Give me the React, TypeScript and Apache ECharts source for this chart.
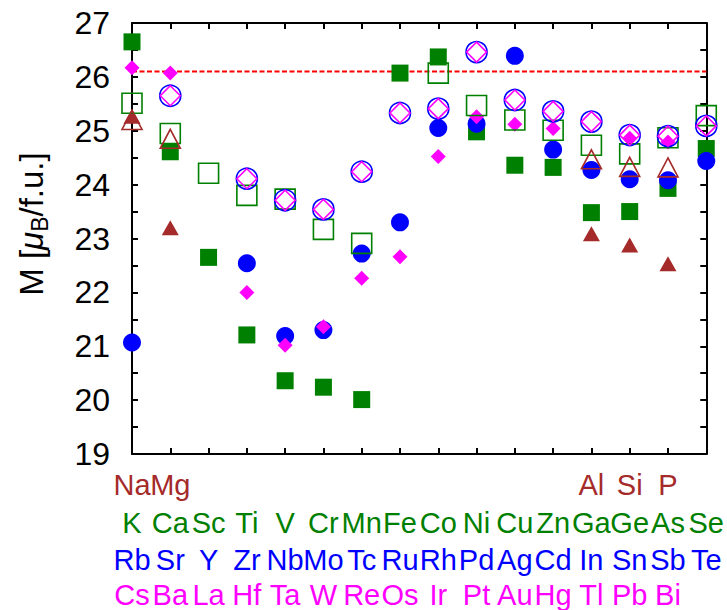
import React, { useEffect, useRef } from "react";
import * as echarts from "echarts";

// Column labels (one per tick, rows from top to bottom)
const rowNa = ["Na", "Mg", "", "", "", "", "", "", "", "", "", "", "Al", "Si", "P", ""];
const rowK = ["K", "Ca", "Sc", "Ti", "V", "Cr", "Mn", "Fe", "Co", "Ni", "Cu", "Zn", "Ga", "Ge", "As", "Se"];
const rowRb = ["Rb", "Sr", "Y", "Zr", "Nb", "Mo", "Tc", "Ru", "Rh", "Pd", "Ag", "Cd", "In", "Sn", "Sb", "Te"];
const rowCs = ["Cs", "Ba", "La", "Hf", "Ta", "W", "Re", "Os", "Ir", "Pt", "Au", "Hg", "Tl", "Pb", "Bi", ""];

const yTicks = [19, 20, 21, 22, 23, 24, 25, 26, 27];
const refLine = 26.1;

// Series values (null = no point) per column
const greenFilled = [26.65, 24.61, 22.65, 21.21, 20.36, 20.24, 20.01, 26.07, 26.37, 24.98, 24.36, 24.32, 23.48, 23.5, 23.93, 24.67];
const greenOpen = [25.51, 24.95, 24.21, 23.8, 23.73, 23.17, 22.91, null, 26.07, 25.47, 25.2, 25.01, 24.73, 24.57, 24.87, 25.28];
const blueFilled = [21.07, null, null, 22.54, 21.19, 21.3, 22.72, 23.3, 25.05, 25.13, 26.39, 24.65, 24.27, 24.1, 24.08, 24.44];
const blueOpen = [null, 25.65, null, 24.11, 23.71, 23.54, 24.24, 25.33, 25.41, 26.46, 25.57, 25.36, 25.17, 24.92, 24.9, 25.09];
const magentaFilled = [26.17, 26.07, null, 22.0, 21.02, 21.36, 22.26, 22.66, 24.52, 25.26, 25.12, 25.04, null, 24.86, 24.79, null];
const magentaOpen = [null, 25.65, null, 24.11, 23.71, 23.54, 24.24, 25.33, 25.41, 26.46, 25.57, 25.36, 25.17, 24.92, 24.9, 25.09];
const brownFilled = [25.27, 23.2, null, null, null, null, null, null, null, null, null, null, 23.09, 22.88, 22.53, null];
const brownOpen = [25.2, 24.85, null, null, null, null, null, null, null, null, null, null, 24.47, 24.33, 24.32, null];

const GREEN = "#008000";
const BLUE = "#0000ff";
const MAGENTA = "#ff00ff";
const BROWN = "#a52a2a";
const FONT = "Liberation Sans";

const toPts = (arr: (number | null)[]) =>
  arr.map((v, i) => (v === null ? null : [i, v])).filter((p) => p !== null);

export default function App() {
  const ref = useRef<HTMLDivElement>(null);
  useEffect(() => {
    if (!ref.current) return;
    const chart = echarts.init(ref.current, null, { renderer: "svg" });
    const n = rowK.length;
    // split the first row so that touching labels (Na, Mg) are not hidden
    const rowNaEven = rowNa.map((s, i) => (i % 2 === 0 ? s : ""));
    const rowNaOdd = rowNa.map((s, i) => (i % 2 === 1 ? s : ""));
    const rows = [rowNaEven, rowNaOdd, rowK, rowRb, rowCs];
    const rowColors = [BROWN, BROWN, GREEN, BLUE, MAGENTA];
    const rowOffsets = [0, 0, 38, 75, 110];
    const bottomAxes = rows.map((row, k) => ({
      type: "value",
      position: "bottom",
      offset: rowOffsets[k],
      min: 0,
      max: n - 1,
      interval: 1,
      splitLine: { show: false },
      axisLine: { show: k === 0, onZero: false, lineStyle: { color: "#000", width: 2 } },
      axisTick: { show: k === 0, inside: true, length: 6, lineStyle: { color: "#000", width: 2 } },
      axisLabel: {
        show: true,
        margin: 16,
        hideOverlap: false,
        showMinLabel: true,
        showMaxLabel: true,
        color: rowColors[k],
        fontSize: 29,
        fontFamily: FONT,
        formatter: (v: number) => row[Math.round(v)] || "",
      },
    }));
    const scatter = (
      name: string,
      data: (number | null)[],
      symbol: string,
      size: number | number[],
      color: string,
      open: boolean
    ) => ({
      name,
      type: "scatter",
      xAxisIndex: 0,
      yAxisIndex: 0,
      clip: false,
      symbol,
      symbolSize: size,
      data: toPts(data),
      itemStyle: open
        ? { color: "rgba(0,0,0,0)", borderColor: color, borderWidth: 1.6, opacity: 1 }
        : { color, borderWidth: 0, opacity: 1 },
    });
    chart.setOption({
      animation: false,
      backgroundColor: "#fff",
      grid: { left: 132, right: 20, top: 23, bottom: 156, containLabel: false },
      xAxis: [
        ...bottomAxes,
        {
          type: "value",
          position: "top",
          min: 0,
          max: n - 1,
          interval: 1,
          splitLine: { show: false },
          axisLine: { show: true, onZero: false, lineStyle: { color: "#000", width: 2 } },
          axisTick: { show: true, inside: true, length: 6, lineStyle: { color: "#000", width: 2 } },
          axisLabel: { show: false },
        },
      ],
      yAxis: [
        {
          type: "value",
          position: "left",
          min: 19,
          max: 27,
          interval: 0.5,
          splitLine: { show: false },
          axisLine: { show: true, onZero: false, lineStyle: { color: "#000", width: 2 } },
          axisTick: { show: true, inside: true, length: 6, lineStyle: { color: "#000", width: 2 } },
          axisLabel: {
            margin: 22,
            fontSize: 32,
            color: "#000",
            fontFamily: FONT,
            formatter: (v: number) => (yTicks.includes(v) ? String(v) : ""),
          },
        },
        {
          type: "value",
          position: "right",
          min: 19,
          max: 27,
          interval: 0.5,
          splitLine: { show: false },
          axisLine: { show: true, onZero: false, lineStyle: { color: "#000", width: 2 } },
          axisTick: { show: true, inside: true, length: 6, lineStyle: { color: "#000", width: 2 } },
          axisLabel: { show: false },
        },
      ],
      graphic: [
        {
          type: "text",
          x: 31,
          y: 224,
          rotation: Math.PI / 2,
          style: {
            text: "M [{i|μ}{s|B}/f.u.]",
            align: "center",
            verticalAlign: "middle",
            fontSize: 33,
            fontFamily: FONT,
            fill: "#000",
            lineHeight: 40,
            rich: {
              i: { fontSize: 33, fontStyle: "italic", fontFamily: FONT, lineHeight: 40 },
              s: { fontSize: 23, fontFamily: FONT, verticalAlign: "bottom", lineHeight: 26 },
            },
          },
        },
      ],
      series: [
        {
          type: "line",
          xAxisIndex: 0,
          yAxisIndex: 0,
          symbol: "none",
          data: [
            [0, refLine],
            [n - 1, refLine],
          ],
          lineStyle: { color: "#ff0000", width: 2, type: [5, 2.5] },
          z: 1,
        },
        scatter("greenFilled", greenFilled, "rect", 17, GREEN, false),
        scatter("blueFilled", blueFilled, "circle", 18, BLUE, false),
        scatter("magentaFilled", magentaFilled, "diamond", 15, MAGENTA, false),
        scatter("brownFilled", brownFilled, "triangle", [17, 15], BROWN, false),
        scatter("greenOpen", greenOpen, "rect", 20, GREEN, true),
        scatter("blueOpen", blueOpen, "circle", 21, BLUE, true),
        scatter("magentaOpen", magentaOpen, "diamond", 20, MAGENTA, true),
        scatter("brownOpen", brownOpen, "triangle", [20, 19], BROWN, true),
      ],
    });
    return () => chart.dispose();
  }, []);
  return (
    <div
      ref={ref}
      style={{ position: "fixed", left: 0, top: 0, width: 727, height: 610 }}
    />
  );
}
